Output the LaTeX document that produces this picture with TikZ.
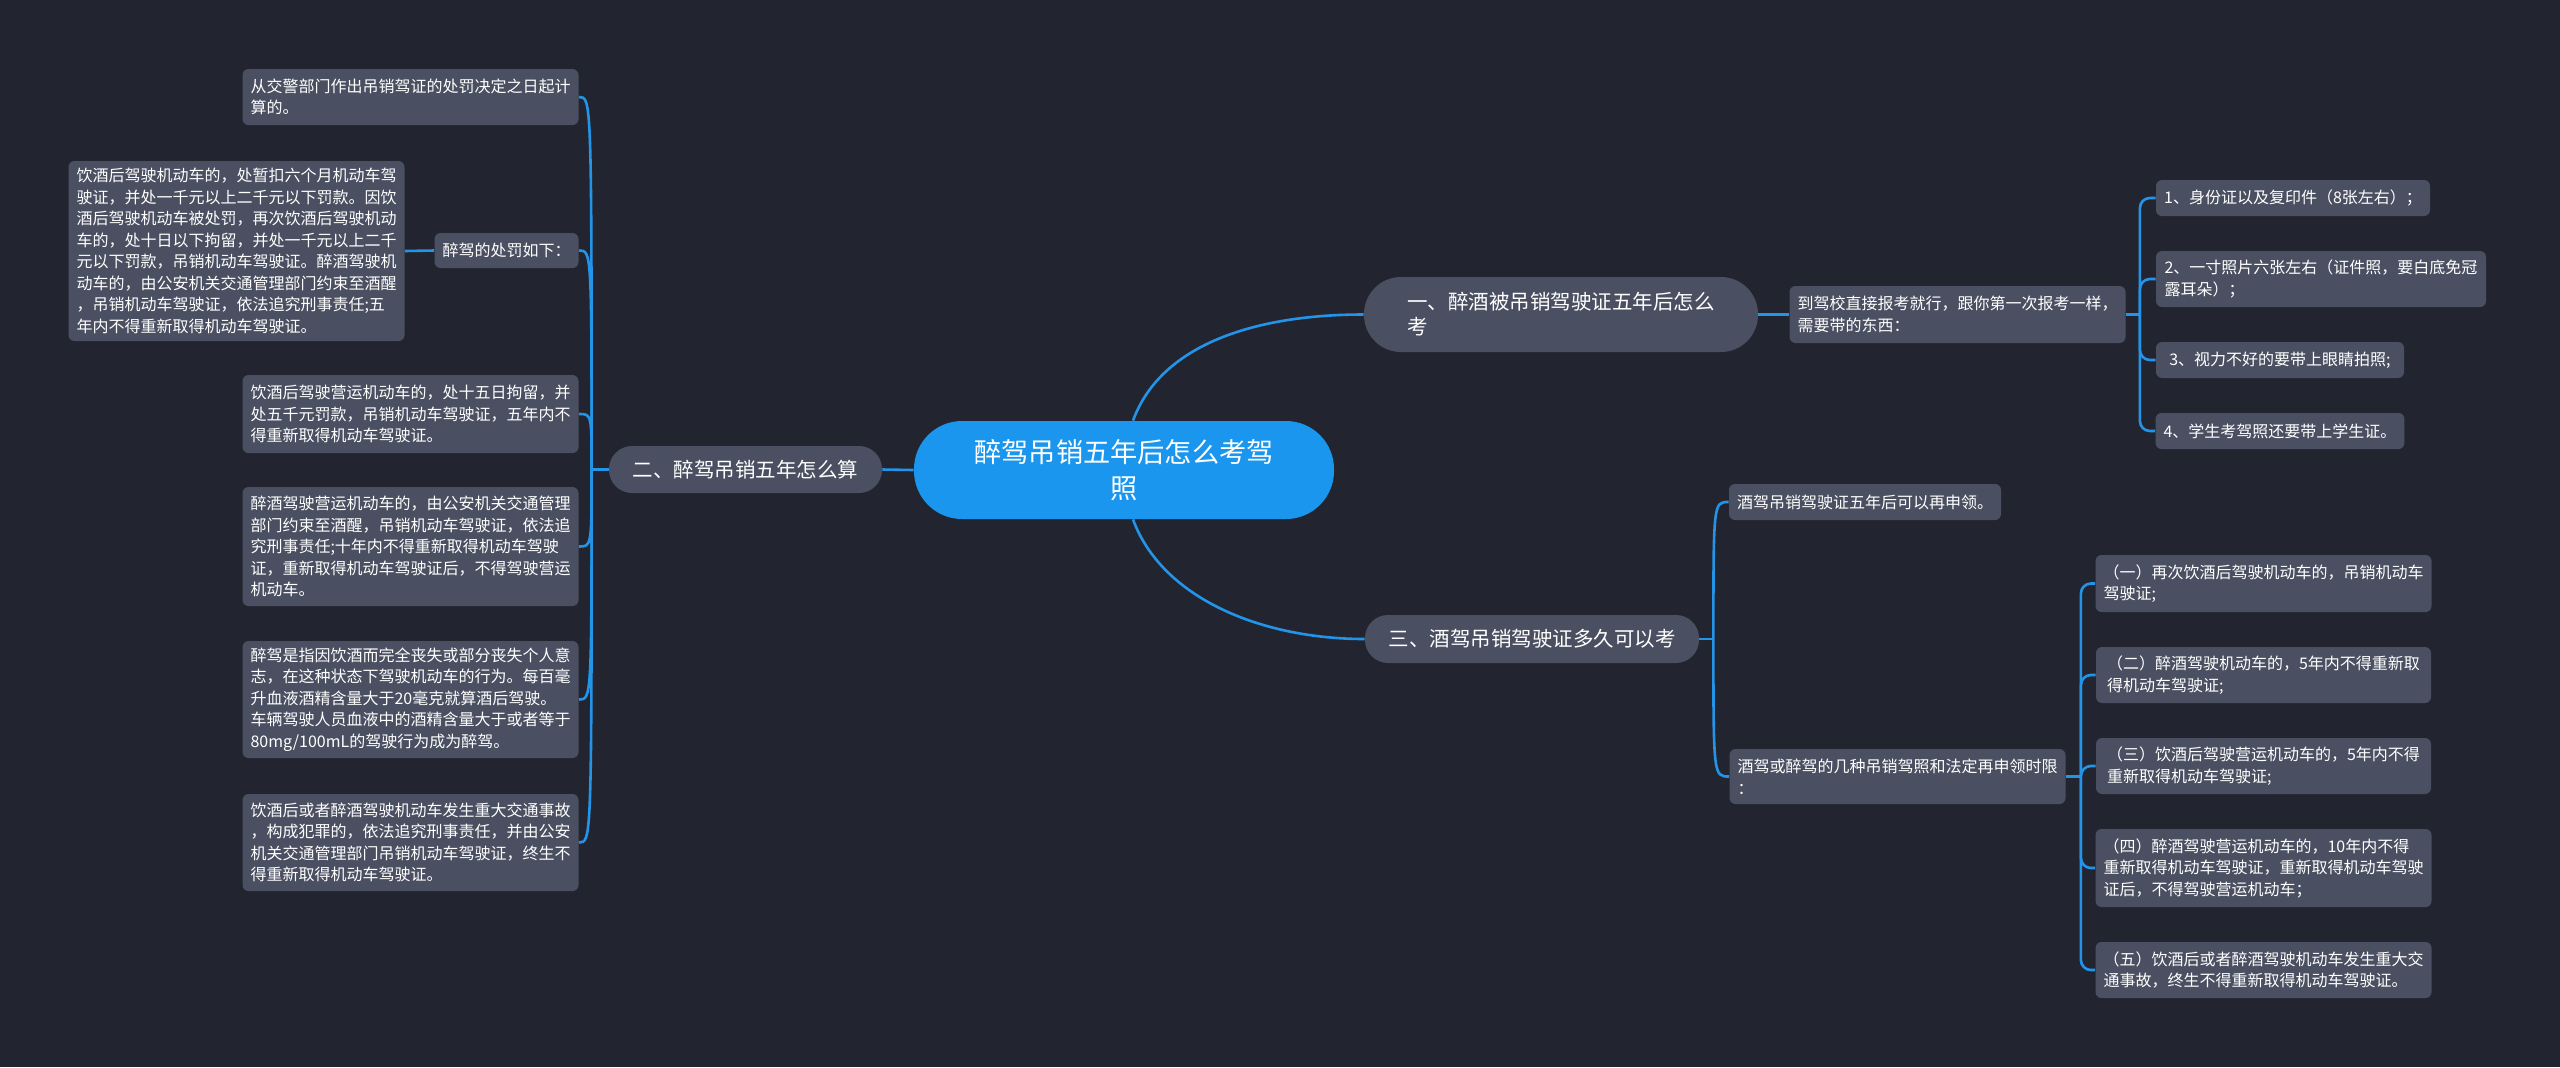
\documentclass[tikz,border=0pt]{standalone}
\usepackage{fontspec}
\setmainfont{Noto Sans CJK SC}
\usepackage{xcolor}
\usepackage{tikz}
\usetikzlibrary{positioning, calc}
\definecolor{bgcol}{HTML}{222530}
\definecolor{boxcol}{HTML}{4A5061}
\definecolor{rootcol}{HTML}{1A96EF}
\definecolor{linecol}{HTML}{2394E8}

\begin{document}
\begin{tikzpicture}[
    x=0.5pt, y=-0.5pt,
    every node/.style={text=white},
    root/.style={fill=rootcol, rounded corners=24pt, align=center, font=\fontsize{13.6}{18.3}\selectfont},
    topic/.style={fill=boxcol, align=left, font=\fontsize{10.25}{12.5}\selectfont},
    leaf/.style={fill=boxcol, rounded corners=3pt, align=left, inner xsep=4pt, minimum width=167.5pt, font=\fontsize{8}{10.75}\selectfont},
    branch/.style={draw=linecol, line width=1.3pt}
]
    \fill[bgcol] (0,0) rectangle (2560,1067);
    \useasboundingbox (0,0) rectangle (2560,1067);
    % Nodes
    \node[root, minimum width=210pt, minimum height=49pt] (root) at (1124,470) {醉驾吊销五年后怎么考驾\\照};
    \node[topic, minimum width=136.5pt, minimum height=23.5pt, rounded corners=11.5pt] (sec2) at (745.5,469.5) {二、醉驾吊销五年怎么算};
    \node[topic, minimum width=197pt, minimum height=37.5pt, rounded corners=18.5pt] (sec1) at (1561,314.5) {一、醉酒被吊销驾驶证五年后怎么\\考};
    \node[topic, minimum width=167pt, minimum height=24pt, rounded corners=11.5pt] (sec3) at (1532,639) {三、酒驾吊销驾驶证多久可以考};
    % left side
    \node[leaf, minimum height=28pt] (count) at (410.5,97) {从交警部门作出吊销驾证的处罚决定之日起计\\算的。};
    \node[leaf, minimum width=71.5pt, minimum height=17.5pt] (rules) at (506.5,250.5) {醉驾的处罚如下：};
    \node[leaf, minimum height=90pt] (ruletext) at (236.5,251) {饮酒后驾驶机动车的，处暂扣六个月机动车驾\\驶证，并处一千元以上二千元以下罚款。因饮\\酒后驾驶机动车被处罚，再次饮酒后驾驶机动\\车的，处十日以下拘留，并处一千元以上二千\\元以下罚款，吊销机动车驾驶证。醉酒驾驶机\\动车的，由公安机关交通管理部门约束至酒醒\\，吊销机动车驾驶证，依法追究刑事责任;五\\年内不得重新取得机动车驾驶证。};
    \node[leaf, minimum height=39pt] (transport) at (410.5,414) {饮酒后驾驶营运机动车的，处十五日拘留，并\\处五千元罚款，吊销机动车驾驶证，五年内不\\得重新取得机动车驾驶证。};
    \node[leaf, minimum height=59.5pt] (drunkbus) at (410.5,546.5) {醉酒驾驶营运机动车的，由公安机关交通管理\\部门约束至酒醒，吊销机动车驾驶证，依法追\\究刑事责任;十年内不得重新取得机动车驾驶\\证，重新取得机动车驾驶证后，不得驾驶营运\\机动车。};
    \node[leaf, minimum height=58.5pt] (define) at (410.5,699.5) {醉驾是指因饮酒而完全丧失或部分丧失个人意\\志，在这种状态下驾驶机动车的行为。每百毫\\升血液酒精含量大于20毫克就算酒后驾驶。\\车辆驾驶人员血液中的酒精含量大于或者等于\\80mg/100mL的驾驶行为成为醉驾。};
    \node[leaf, minimum height=48.5pt] (accident) at (410.5,842.5) {饮酒后或者醉酒驾驶机动车发生重大交通事故\\，构成犯罪的，依法追究刑事责任，并由公安\\机关交通管理部门吊销机动车驾驶证，终生不\\得重新取得机动车驾驶证。};
    % right side, first topic
    \node[leaf, minimum height=28.5pt] (school) at (1957.5,314.5) {到驾校直接报考就行，跟你第一次报考一样，\\需要带的东西：};
    \node[leaf, minimum width=137pt, minimum height=18pt] (idcard) at (2293,198) {1、身份证以及复印件（8张左右）；};
    \node[leaf, minimum width=165pt, minimum height=28pt] (photo) at (2321,279) {2、一寸照片六张左右（证件照，要白底免冠\\露耳朵）；};
    \node[leaf, minimum width=124pt, minimum height=18pt] (glasses) at (2280,360) {3、视力不好的要带上眼睛拍照;};
    \node[leaf, minimum width=124pt, minimum height=18pt] (student) at (2280,431) {4、学生考驾照还要带上学生证。};
    % right side, third topic
    \node[leaf, minimum width=135pt, minimum height=18pt] (reapply) at (1865,502) {酒驾吊销驾驶证五年后可以再申领。};
    \node[leaf, minimum height=27.5pt] (limits) at (1897.5,776.5) {酒驾或醉驾的几种吊销驾照和法定再申领时限\\：};
    \node[leaf, minimum height=28.5pt] (lim1) at (2263.5,583.5) {（一）再次饮酒后驾驶机动车的，吊销机动车\\驾驶证;};
    \node[leaf, minimum height=28pt] (lim2) at (2263.5,675) {（二）醉酒驾驶机动车的，5年内不得重新取\\得机动车驾驶证;};
    \node[leaf, minimum height=28pt] (lim3) at (2263.5,766) {（三）饮酒后驾驶营运机动车的，5年内不得\\重新取得机动车驾驶证;};
    \node[leaf, minimum height=39pt] (lim4) at (2263.5,868) {（四）醉酒驾驶营运机动车的，10年内不得\\重新取得机动车驾驶证，重新取得机动车驾驶\\证后，不得驾驶营运机动车；};
    \node[leaf, minimum height=28pt] (lim5) at (2263.5,970) {（五）饮酒后或者醉酒驾驶机动车发生重大交\\通事故，终生不得重新取得机动车驾驶证。};
    % Connections
    \draw[branch] (root.west) -- (sec2.east);
    \draw[branch] ([xshift=4.5pt]root.north) .. controls +(29,-79) and +(-103,0) .. (sec1.west);
    \draw[branch] ([xshift=4.5pt]root.south) .. controls +(29,79) and +(-103,0) .. (sec3.west);
    \draw[branch] (sec2.west) -- ++(-17,0) coordinate (j2);
    \foreach \n in {count, rules, transport, drunkbus, define, accident}
        \draw[branch] (j2) .. controls (j2 |- \n.east) .. (\n.east);
    \draw[branch] (rules.west) -- (ruletext.east);
    \draw[branch] (sec1.east) -- (school.west);
    \draw[branch] (school.east) -- ++(14,0) coordinate (j1);
    \foreach \n in {idcard, photo, glasses, student}
        \draw[branch, rounded corners=5pt] (j1) |- (\n.west);
    \draw[branch] (sec3.east) -- ++(14,0) coordinate (j3);
    \foreach \n in {reapply, limits}
        \draw[branch] (j3) .. controls (j3 |- \n.west) .. (\n.west);
    \draw[branch] (limits.east) -- ++(15,0) coordinate (j4);
    \foreach \n in {lim1, lim2, lim3, lim4, lim5}
        \draw[branch, rounded corners=5pt] (j4) |- (\n.west);
\end{tikzpicture}
\end{document}
